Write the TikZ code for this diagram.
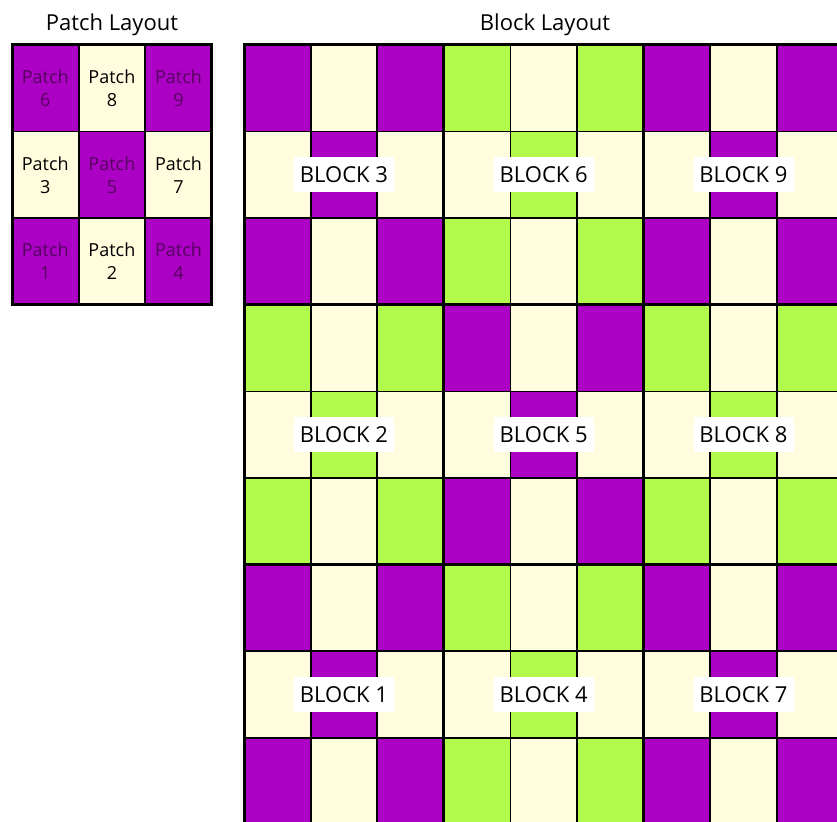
\documentclass[tikz,border=0pt]{standalone}
\usepackage{fontspec}
\setmainfont{Open Sans}
\definecolor{pur}{RGB}{172,0,196}
\definecolor{grn}{RGB}{178,250,76}
\definecolor{crm}{RGB}{255,253,222}
\definecolor{dpur}{RGB}{85,0,95}
\tikzset{
  cellbox/.style={draw=black,line width=1.8pt},
  blockframe/.style={draw=black,line width=3pt},
  blocklabel/.style={fill=white,inner sep=0pt,minimum width=100pt,minimum height=35pt,font=\fontsize{22}{26}\selectfont},
  patchlabel/.style={align=center,inner sep=0pt,font=\fontsize{18}{23}\selectfont},
  titlelabel/.style={inner sep=0pt,font=\fontsize{22}{26}\selectfont}
}
\begin{document}
\begin{tikzpicture}[x=1pt,y=-1pt]
\useasboundingbox (0,0) rectangle (837,821);
\clip (0,0) rectangle (837,821);
\def\cw{66.6}
\def\ch{86.6}
% ---------- Patch layout ----------
\node[titlelabel] (ptitle) at (112,25) {Patch Layout};
\foreach \i/\j/\c in {0/0/pur,1/0/crm,2/0/pur,0/1/crm,1/1/pur,2/1/crm,0/2/pur,1/2/crm,2/2/pur}{
  \filldraw[cellbox,fill=\c] ({12+\i*\cw},{45+\j*\ch}) rectangle ++(\cw,\ch);
}
\foreach \i/\j/\n in {0/0/6,2/0/9,1/1/5,0/2/1,2/2/4}{
  \node[patchlabel,text=dpur] (p\n) at ({12+(\i+0.5)*\cw},{45+(\j+0.5)*\ch}) {Patch\\\n};
}
\foreach \i/\j/\n in {1/0/8,0/1/3,2/1/7,1/2/2}{
  \node[patchlabel,text=black] (p\n) at ({12+(\i+0.5)*\cw},{45+(\j+0.5)*\ch}) {Patch\\\n};
}
\draw[blockframe] (12,45) rectangle ++({3*\cw},{3*\ch});
% ---------- Block layout ----------
\node[titlelabel] (btitle) at (545,25) {Block Layout};
\foreach \bx/\by/\c/\n in {0/0/pur/3,1/0/grn/6,2/0/pur/9,0/1/grn/2,1/1/pur/5,2/1/grn/8,0/2/pur/1,1/2/grn/4,2/2/pur/7}{
  \foreach \i in {0,1,2}{
    \foreach \j in {0,1,2}{
      \pgfmathtruncatemacro\ev{mod(\i+\j,2)}
      \ifnum\ev=0 \def\fc{\c}\else\def\fc{crm}\fi
      \filldraw[cellbox,fill=\fc] ({244+(3*\bx+\i)*\cw},{45+(3*\by+\j)*\ch}) rectangle ++(\cw,\ch);
    }
  }
}
\foreach \bx/\by in {0/0,1/0,2/0,0/1,1/1,2/1,0/2,1/2,2/2}{
  \draw[blockframe] ({244+3*\bx*\cw},{45+3*\by*\ch}) rectangle ++({3*\cw},{3*\ch});
}
\foreach \bx/\by/\n in {0/0/3,1/0/6,2/0/9,0/1/2,1/1/5,2/1/8,0/2/1,1/2/4,2/2/7}{
  \node[blocklabel] (b\n) at ({244+(3*\bx+1.5)*\cw},{45+(3*\by+1.5)*\ch}) {BLOCK \n};
}
\end{tikzpicture}
\end{document}
